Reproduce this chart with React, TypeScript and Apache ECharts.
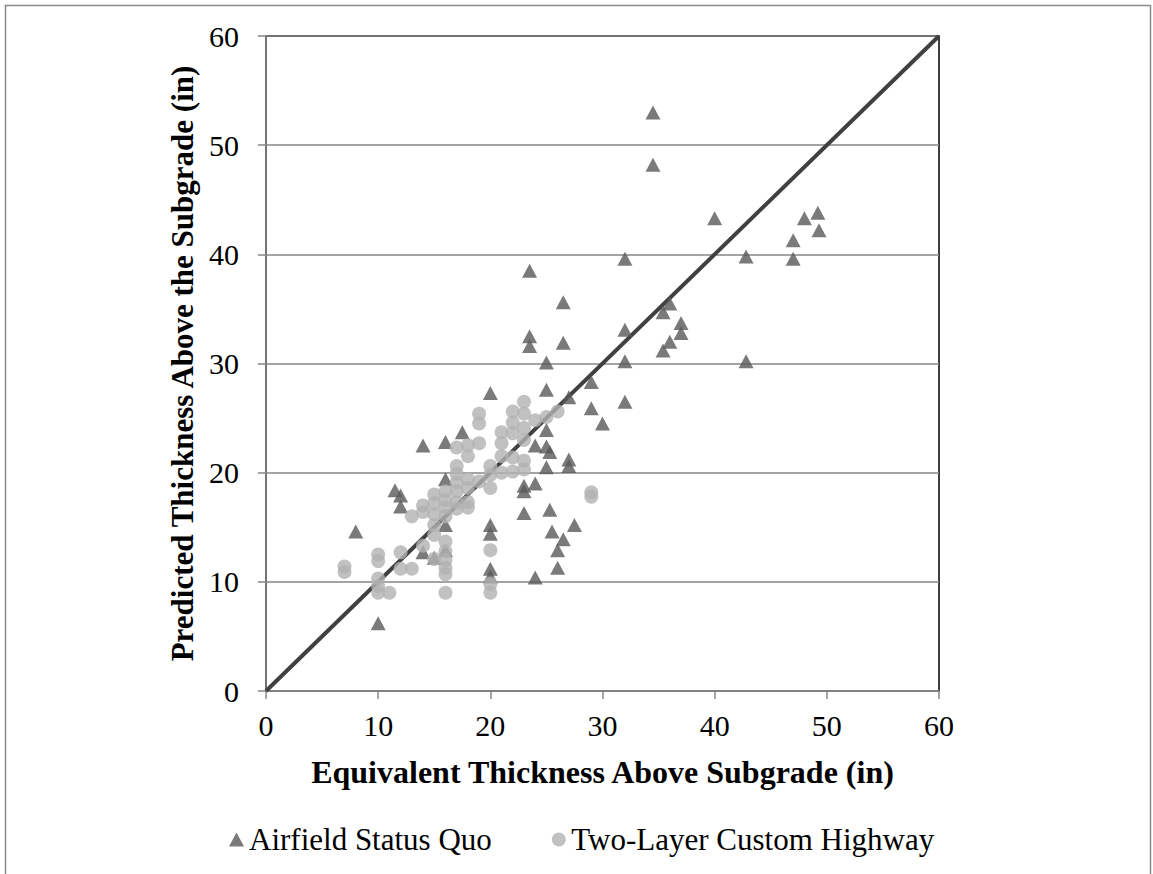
import React, { useEffect, useRef } from "react";
import * as echarts from "echarts";

const xTicks = [0, 10, 20, 30, 40, 50, 60];

const airfieldX = [8, 10, 11.5, 12, 12, 14, 14, 15, 16, 16, 16, 16, 17.5, 20, 20, 20, 20, 20, 23, 23, 23, 23.5, 23.5, 23.5, 24, 24, 24, 25, 25, 25, 25, 25.3, 25, 25.3, 25.5, 26, 26, 26.5, 26.5, 26.5, 27, 27, 27, 27.5, 29, 29, 30, 32, 32, 32, 32, 34.5, 34.5, 35.4, 36, 36, 35.4, 37, 37, 40, 42.8, 42.8, 47, 47, 48, 49.2, 49.3];
const airfieldY = [14.6, 6.2, 18.4, 17.9, 16.9, 22.5, 12.7, 12.2, 22.8, 19.4, 15.2, 12.9, 23.7, 27.3, 15.2, 14.4, 11.2, 10.5, 18.8, 18.3, 16.3, 38.5, 32.5, 31.6, 22.5, 19.0, 10.4, 30.1, 27.6, 23.9, 22.4, 21.9, 20.5, 16.6, 14.6, 12.9, 11.3, 13.9, 35.6, 31.9, 26.9, 21.2, 20.6, 15.2, 28.3, 25.9, 24.5, 39.6, 33.1, 30.2, 26.5, 53.0, 48.2, 34.7, 35.5, 32.0, 31.2, 33.7, 32.8, 43.3, 39.8, 30.2, 41.3, 39.6, 43.3, 43.8, 42.2];

const highwayX = [7, 7, 10, 10, 10, 10, 10, 11, 12, 12, 13, 13, 14, 14, 14, 15, 15, 15, 15, 15, 15, 16, 16, 16, 16, 16, 16, 16, 16, 16, 16, 17, 17, 17, 17, 17, 17, 17, 18, 18, 18, 18, 18, 18, 19, 19, 19, 19, 20, 20, 20, 20, 20, 20, 21, 21, 21, 21, 22, 22, 22, 22, 22, 23, 23, 23, 23, 23, 23, 24, 25, 26, 29, 29];
const highwayY = [11.4, 10.9, 12.5, 11.9, 10.3, 9.6, 9.0, 9.0, 12.7, 11.2, 11.2, 16.0, 16.4, 13.3, 17.0, 18.0, 17.2, 16.2, 15.2, 14.3, 12.1, 18.3, 17.5, 16.8, 16.0, 13.7, 12.8, 12.0, 11.3, 10.7, 9.0, 22.3, 20.6, 19.9, 19.1, 18.3, 17.3, 16.7, 22.5, 21.5, 19.4, 18.6, 17.3, 16.8, 25.4, 24.5, 22.7, 19.2, 20.6, 19.8, 18.6, 12.9, 9.8, 9.0, 23.7, 22.7, 21.5, 20.0, 25.6, 24.6, 23.6, 21.4, 20.1, 26.5, 25.4, 24.1, 23.0, 21.1, 20.3, 24.8, 25.1, 25.6, 18.2, 17.8];

const lineX = [0, 60];
const lineY = [0, 60];

const seriesNames = ["Airfield Status Quo", "Two-Layer Custom Highway"];
const xTitle = "Equivalent Thickness Above Subgrade (in)";
const yTitle = "Predicted Thickness Above the Subgrade (in)";

const FONT = "'Liberation Serif', 'Times New Roman', serif";

export default function App() {
  const ref = useRef<HTMLDivElement>(null);
  useEffect(() => {
    if (!ref.current) return;
    const chart = echarts.init(ref.current, null, { renderer: "svg" });
    const gray = "#868686";
    chart.setOption({
      animation: false,
      backgroundColor: "#ffffff",
      textStyle: { fontFamily: FONT },
      graphic: [
        {
          type: "rect",
          shape: { x: 5.5, y: 5.5, width: 1145, height: 900 },
          style: { fill: "none", stroke: "#8a8a8a", lineWidth: 1.5 },
          silent: true,
        },
      ],
      grid: {
        left: 266,
        top: 36,
        width: 673,
        height: 655,
        show: true,
        borderColor: "#000000",
        borderWidth: 1.5,
        backgroundColor: "transparent",
      },
      legend: {
        data: [
          { name: seriesNames[0], icon: "triangle" },
          { name: seriesNames[1], icon: "circle" },
        ],
        left: 224,
        top: 819,
        itemWidth: 15,
        itemHeight: 14,
        itemGap: 60,
        textStyle: { fontFamily: FONT, fontSize: 31, color: "#000" },
      },
      xAxis: {
        type: "value",
        min: 0,
        max: 60,
        interval: 10,
        name: xTitle,
        nameLocation: "middle",
        nameGap: 65,
        nameTextStyle: { fontFamily: FONT, fontSize: 32, fontWeight: "bold", color: "#000" },
        axisLine: { show: true, lineStyle: { color: gray, width: 1.5 } },
        axisTick: { show: true, length: 8, inside: false, lineStyle: { color: gray, width: 1.5 } },
        axisLabel: {
          fontFamily: FONT,
          fontSize: 30,
          color: "#000",
          margin: 19,
          formatter: (v: number) => (xTicks.includes(v) ? String(v) : ""),
        },
        splitLine: { show: false },
      },
      yAxis: {
        type: "value",
        min: 0,
        max: 60,
        interval: 10,
        name: yTitle,
        nameLocation: "middle",
        nameGap: 66,
        nameTextStyle: { fontFamily: FONT, fontSize: 31, fontWeight: "bold", color: "#000" },
        axisLine: { show: true, lineStyle: { color: gray, width: 1.5 } },
        axisTick: { show: true, length: 8, inside: false, lineStyle: { color: gray, width: 1.5 } },
        axisLabel: { fontFamily: FONT, fontSize: 30, color: "#000", margin: 27 },
        splitLine: { show: true, lineStyle: { color: gray, width: 1.5 } },
      },
      series: [
        {
          name: "Line of Equality",
          type: "line",
          data: lineX.map((x, i) => [x, lineY[i]]),
          symbol: "none",
          lineStyle: { color: "#404040", width: 4 },
          z: 1,
          silent: true,
        },
        {
          name: seriesNames[0],
          type: "scatter",
          symbol: "triangle",
          symbolSize: [15, 14],
          itemStyle: { color: "#595959" },
          data: airfieldX.map((x, i) => [x, airfieldY[i]]),
          z: 2,
        },
        {
          name: seriesNames[1],
          type: "scatter",
          symbol: "circle",
          symbolSize: 14,
          itemStyle: { color: "#b2b2b2" },
          data: highwayX.map((x, i) => [x, highwayY[i]]),
          z: 3,
        },
      ],
    });
    return () => chart.dispose();
  }, []);
  return (
    <div
      ref={ref}
      style={{ position: "fixed", left: 0, top: 0, width: 1153, height: 874, background: "#fff" }}
    />
  );
}
